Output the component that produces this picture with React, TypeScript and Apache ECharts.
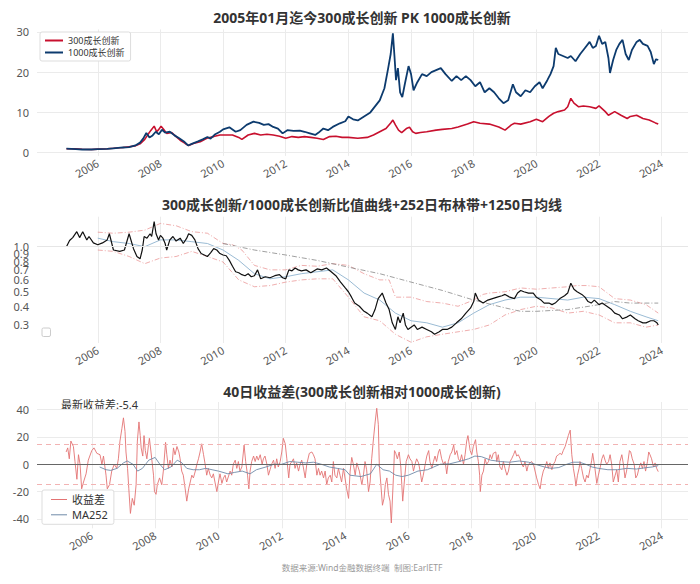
import React, { useEffect, useRef } from 'react';
import * as echarts from 'echarts';

const yearTicks = [2006, 2008, 2010, 2012, 2014, 2016, 2018, 2020, 2022, 2024];
const p1Ticks = [0, 10, 20, 30];
const p2Ticks = [0.3, 0.4, 0.5, 0.6, 0.7, 0.8, 0.9, 1.0];
const p3Ticks = [-40, -20, 0, 20, 40];
const legend1 = ['300成长创新', '1000成长创新'];
const legend3 = ['收益差', 'MA252'];

const p300: [number, number][] = [[2005.0,1.0],[2005.3,0.95],[2005.5,0.85],[2005.8,0.8],[2006.0,0.9],[2006.3,1.0],[2006.5,1.1],[2006.8,1.3],[2007.0,1.5],[2007.2,1.7],[2007.35,2.2],[2007.5,3.3],[2007.6,4.5],[2007.7,5.6],[2007.8,6.6],[2007.88,5.2],[2007.95,5.8],[2008.02,6.6],[2008.1,5.8],[2008.2,4.8],[2008.36,5.0],[2008.5,4.0],[2008.63,3.1],[2008.79,2.3],[2008.9,1.8],[2009.05,2.3],[2009.27,2.7],[2009.48,3.6],[2009.7,4.0],[2009.9,4.4],[2010.0,4.4],[2010.3,4.4],[2010.5,3.8],[2010.6,3.3],[2010.8,4.4],[2011.0,4.8],[2011.2,4.4],[2011.4,4.6],[2011.6,4.4],[2011.8,4.1],[2012.0,3.6],[2012.2,4.0],[2012.4,3.8],[2012.6,4.0],[2012.8,3.8],[2013.0,3.6],[2013.2,3.3],[2013.4,4.0],[2013.6,4.1],[2013.8,3.8],[2014.0,3.8],[2014.3,3.6],[2014.6,3.8],[2014.8,4.4],[2015.0,5.2],[2015.2,6.0],[2015.35,7.4],[2015.42,8.1],[2015.5,6.9],[2015.6,5.6],[2015.7,5.0],[2015.85,6.0],[2015.95,6.3],[2016.05,5.2],[2016.15,4.8],[2016.3,5.0],[2016.5,5.2],[2016.8,5.6],[2017.0,5.8],[2017.3,6.0],[2017.5,6.4],[2017.8,7.1],[2018.0,7.7],[2018.2,7.3],[2018.5,7.1],[2018.8,6.4],[2019.0,5.6],[2019.2,6.9],[2019.3,7.3],[2019.5,7.1],[2019.8,7.7],[2020.0,8.3],[2020.2,7.7],[2020.4,9.0],[2020.55,9.8],[2020.7,10.2],[2020.9,10.6],[2021.0,11.4],[2021.1,13.5],[2021.2,12.3],[2021.35,11.4],[2021.5,11.6],[2021.7,11.4],[2021.9,11.0],[2022.0,11.6],[2022.2,10.2],[2022.3,9.3],[2022.5,10.2],[2022.7,9.3],[2022.9,8.5],[2023.0,9.0],[2023.2,9.3],[2023.4,8.5],[2023.6,8.1],[2023.8,7.4],[2023.89,7.1]];

const p1000: [number, number][] = [[2005.0,1.0],[2005.3,0.9],[2005.5,0.8],[2005.8,0.8],[2006.0,0.9],[2006.3,0.95],[2006.5,1.1],[2006.8,1.3],[2007.0,1.4],[2007.2,1.8],[2007.35,2.5],[2007.45,3.5],[2007.55,4.9],[2007.65,3.8],[2007.75,4.3],[2007.85,5.2],[2007.95,4.6],[2008.05,5.7],[2008.15,5.0],[2008.3,5.2],[2008.45,4.3],[2008.6,3.6],[2008.75,2.8],[2008.88,1.8],[2009.0,2.2],[2009.2,2.8],[2009.35,3.3],[2009.5,3.9],[2009.6,3.5],[2009.75,4.6],[2009.9,5.2],[2010.0,5.8],[2010.2,6.3],[2010.4,5.2],[2010.55,5.6],[2010.75,6.9],[2010.97,7.7],[2011.15,7.4],[2011.3,6.9],[2011.45,7.1],[2011.6,6.4],[2011.75,6.0],[2011.9,4.8],[2012.05,5.6],[2012.25,5.4],[2012.45,5.5],[2012.6,5.2],[2012.77,4.8],[2012.94,4.4],[2013.05,5.0],[2013.2,6.0],[2013.35,5.6],[2013.5,6.4],[2013.73,7.3],[2013.9,7.8],[2014.0,9.0],[2014.15,8.3],[2014.3,8.0],[2014.5,9.0],[2014.7,10.0],[2014.85,11.5],[2015.0,13.0],[2015.15,16.0],[2015.27,21.0],[2015.35,24.5],[2015.42,29.6],[2015.47,24.0],[2015.52,18.0],[2015.58,21.0],[2015.65,15.0],[2015.72,13.8],[2015.8,17.0],[2015.92,21.5],[2016.0,19.5],[2016.08,15.5],[2016.2,17.5],[2016.35,19.5],[2016.5,19.0],[2016.65,20.0],[2016.8,20.5],[2016.95,21.0],[2017.1,19.5],[2017.3,17.8],[2017.45,19.0],[2017.6,18.0],[2017.75,19.0],[2017.9,18.0],[2018.05,16.5],[2018.2,17.5],[2018.35,15.0],[2018.5,16.0],[2018.65,15.0],[2018.8,13.5],[2018.95,12.3],[2019.1,13.0],[2019.25,17.0],[2019.35,15.0],[2019.5,14.0],[2019.65,15.5],[2019.8,15.0],[2019.95,16.5],[2020.1,17.5],[2020.2,16.0],[2020.35,18.0],[2020.45,19.5],[2020.55,21.5],[2020.62,26.0],[2020.7,24.5],[2020.85,24.0],[2021.0,23.5],[2021.1,24.0],[2021.25,22.7],[2021.4,24.5],[2021.55,26.0],[2021.7,27.5],[2021.8,26.0],[2021.9,26.5],[2022.0,29.0],[2022.1,27.0],[2022.2,27.5],[2022.3,23.5],[2022.35,19.8],[2022.45,23.0],[2022.55,25.5],[2022.65,27.0],[2022.75,28.0],[2022.85,24.5],[2022.95,23.0],[2023.05,25.5],[2023.2,27.5],[2023.3,28.0],[2023.4,27.0],[2023.55,26.5],[2023.65,25.0],[2023.75,22.0],[2023.82,23.2],[2023.89,23.0]];

const ratio: [number, number][] = [[2005.0,1.0],[2005.1,1.1],[2005.2,1.15],[2005.33,1.26],[2005.42,1.15],[2005.52,1.26],[2005.65,1.11],[2005.72,1.17],[2005.86,1.06],[2006.0,1.03],[2006.15,1.06],[2006.3,1.11],[2006.37,1.22],[2006.5,0.95],[2006.7,0.93],[2006.85,0.95],[2007.0,1.22],[2007.14,0.97],[2007.25,0.86],[2007.35,0.83],[2007.42,0.95],[2007.48,1.17],[2007.57,1.14],[2007.67,1.22],[2007.72,1.17],[2007.8,1.47],[2007.86,1.22],[2007.94,1.11],[2008.0,1.19],[2008.08,1.14],[2008.15,1.05],[2008.2,0.95],[2008.3,1.11],[2008.4,1.17],[2008.5,1.09],[2008.63,1.14],[2008.73,1.05],[2008.84,1.14],[2008.9,1.22],[2009.0,1.19],[2009.1,1.11],[2009.2,0.97],[2009.3,0.9],[2009.4,0.88],[2009.5,0.86],[2009.6,0.91],[2009.7,0.97],[2009.8,0.95],[2009.9,0.9],[2010.0,0.88],[2010.1,0.87],[2010.2,0.81],[2010.3,0.74],[2010.4,0.68],[2010.5,0.67],[2010.6,0.65],[2010.7,0.64],[2010.8,0.66],[2010.9,0.63],[2011.0,0.64],[2011.1,0.7],[2011.2,0.61],[2011.35,0.63],[2011.5,0.62],[2011.65,0.64],[2011.8,0.65],[2011.9,0.62],[2012.0,0.61],[2012.1,0.7],[2012.2,0.69],[2012.3,0.72],[2012.4,0.7],[2012.5,0.69],[2012.65,0.7],[2012.8,0.67],[2013.0,0.71],[2013.15,0.7],[2013.3,0.72],[2013.45,0.68],[2013.6,0.64],[2013.75,0.58],[2013.9,0.53],[2014.0,0.5],[2014.1,0.46],[2014.2,0.42],[2014.35,0.4],[2014.5,0.37],[2014.6,0.36],[2014.75,0.34],[2014.85,0.38],[2014.95,0.45],[2015.08,0.49],[2015.2,0.42],[2015.3,0.38],[2015.4,0.31],[2015.5,0.28],[2015.58,0.34],[2015.65,0.31],[2015.75,0.36],[2015.82,0.3],[2015.9,0.28],[2016.0,0.29],[2016.1,0.3],[2016.2,0.28],[2016.35,0.29],[2016.5,0.28],[2016.65,0.27],[2016.75,0.26],[2016.9,0.27],[2017.0,0.28],[2017.15,0.28],[2017.3,0.29],[2017.45,0.31],[2017.6,0.33],[2017.75,0.36],[2017.9,0.39],[2018.0,0.43],[2018.05,0.49],[2018.15,0.44],[2018.3,0.42],[2018.45,0.44],[2018.6,0.45],[2018.75,0.46],[2018.9,0.47],[2019.0,0.48],[2019.15,0.46],[2019.3,0.45],[2019.4,0.49],[2019.5,0.51],[2019.6,0.5],[2019.75,0.49],[2019.9,0.49],[2020.0,0.46],[2020.15,0.44],[2020.25,0.42],[2020.4,0.42],[2020.5,0.41],[2020.6,0.42],[2020.75,0.45],[2020.9,0.47],[2021.0,0.49],[2021.1,0.57],[2021.2,0.52],[2021.3,0.5],[2021.45,0.48],[2021.55,0.46],[2021.65,0.43],[2021.75,0.42],[2021.85,0.44],[2022.0,0.41],[2022.1,0.42],[2022.25,0.4],[2022.4,0.38],[2022.5,0.36],[2022.65,0.35],[2022.75,0.33],[2022.9,0.34],[2023.0,0.35],[2023.15,0.33],[2023.25,0.32],[2023.4,0.31],[2023.5,0.31],[2023.65,0.32],[2023.75,0.32],[2023.85,0.31],[2023.89,0.3]];

const bandUpper: [number, number][] = [[2006.0,1.25],[2006.5,1.23],[2007.0,1.25],[2007.5,1.29],[2008.0,1.43],[2008.5,1.38],[2009.0,1.26],[2009.5,1.23],[2010.0,1.05],[2010.3,1.03],[2010.6,0.95],[2011.0,0.75],[2011.5,0.7],[2012.0,0.7],[2012.5,0.75],[2013.0,0.74],[2013.5,0.77],[2014.0,0.75],[2014.5,0.66],[2015.0,0.6],[2015.3,0.6],[2015.5,0.46],[2016.0,0.46],[2016.5,0.43],[2017.0,0.42],[2017.5,0.4],[2018.0,0.44],[2018.3,0.48],[2018.5,0.49],[2019.0,0.5],[2019.5,0.53],[2020.0,0.52],[2020.5,0.53],[2021.0,0.54],[2021.3,0.55],[2021.6,0.55],[2022.0,0.54],[2022.5,0.45],[2023.0,0.44],[2023.5,0.41],[2023.89,0.36]];

const bandLower: [number, number][] = [[2006.0,0.95],[2006.5,0.93],[2007.0,0.86],[2007.5,0.77],[2008.0,0.84],[2008.5,0.86],[2009.0,0.93],[2009.5,0.86],[2010.0,0.79],[2010.5,0.6],[2011.0,0.54],[2011.5,0.55],[2012.0,0.58],[2012.5,0.6],[2013.0,0.61],[2013.5,0.61],[2014.0,0.46],[2014.5,0.34],[2015.0,0.32],[2015.5,0.26],[2016.0,0.23],[2016.5,0.25],[2017.0,0.26],[2017.5,0.27],[2018.0,0.28],[2018.5,0.3],[2019.0,0.35],[2019.5,0.38],[2020.0,0.4],[2020.5,0.39],[2021.0,0.36],[2021.5,0.37],[2022.0,0.35],[2022.5,0.31],[2023.0,0.31],[2023.5,0.29],[2023.89,0.3]];

const bandMid: [number, number][] = [[2006.0,1.14],[2006.5,1.08],[2007.0,1.05],[2007.5,1.0],[2008.0,1.11],[2008.5,1.11],[2009.0,1.08],[2009.5,1.05],[2010.0,0.95],[2010.5,0.81],[2011.0,0.66],[2011.5,0.61],[2012.0,0.63],[2012.5,0.66],[2013.0,0.68],[2013.5,0.7],[2014.0,0.6],[2014.5,0.49],[2015.0,0.44],[2015.5,0.36],[2016.0,0.32],[2016.5,0.31],[2017.0,0.29],[2017.5,0.31],[2018.0,0.36],[2018.5,0.41],[2019.0,0.44],[2019.5,0.46],[2020.0,0.46],[2020.5,0.45],[2021.0,0.44],[2021.5,0.46],[2022.0,0.45],[2022.5,0.41],[2023.0,0.37],[2023.5,0.34],[2023.89,0.32]];

const ma1250: [number, number][] = [[2010.0,1.05],[2011.0,0.95],[2012.0,0.88],[2013.0,0.81],[2014.0,0.73],[2015.0,0.66],[2016.0,0.58],[2017.0,0.51],[2018.0,0.44],[2019.0,0.39],[2019.5,0.37],[2020.0,0.37],[2021.0,0.38],[2022.0,0.41],[2022.5,0.43],[2023.0,0.42],[2023.5,0.42],[2023.89,0.42]];

const spread: [number, number][] = [[2005.19,9],[2005.24,12],[2005.29,4],[2005.34,17],[2005.42,13],[2005.47,2],[2005.53,-11],[2005.58,7],[2005.63,0],[2005.68,-18],[2005.74,-13],[2005.82,-7],[2005.89,3],[2006.0,10],[2006.07,12],[2006.16,8],[2006.26,7],[2006.32,0],[2006.37,6],[2006.45,-8],[2006.49,-18],[2006.56,-15],[2006.63,-5],[2006.71,0],[2006.79,-3],[2006.84,4],[2006.89,17],[2006.95,26],[2007.0,34],[2007.05,24],[2007.08,9],[2007.13,-3],[2007.17,-18],[2007.22,-36],[2007.28,-25],[2007.34,-30],[2007.4,-15],[2007.44,17],[2007.49,31],[2007.53,21],[2007.56,12],[2007.61,6],[2007.65,21],[2007.69,10],[2007.74,4],[2007.79,14],[2007.82,19],[2007.87,9],[2007.95,-8],[2007.98,-20],[2008.03,-22],[2008.07,-15],[2008.14,-10],[2008.21,-15],[2008.26,-5],[2008.33,16],[2008.37,7],[2008.42,-3],[2008.47,3],[2008.53,-2],[2008.58,12],[2008.63,7],[2008.69,13],[2008.75,9],[2008.79,4],[2008.84,-5],[2008.89,-8],[2008.95,-18],[2009.0,-27],[2009.06,-18],[2009.11,-13],[2009.16,-8],[2009.21,-10],[2009.27,-5],[2009.32,0],[2009.37,4],[2009.42,9],[2009.47,15],[2009.53,7],[2009.58,0],[2009.63,-8],[2009.68,-3],[2009.74,-8],[2009.79,-10],[2009.84,-7],[2009.89,-13],[2009.95,-20],[2010.0,-13],[2010.05,-7],[2010.11,-14],[2010.16,-10],[2010.21,-8],[2010.26,-13],[2010.37,-5],[2010.42,-8],[2010.47,0],[2010.53,3],[2010.58,-3],[2010.63,2],[2010.68,-5],[2010.74,-2],[2010.81,14],[2010.86,2],[2010.92,-8],[2010.96,-18],[2011.0,-5],[2011.05,2],[2011.11,6],[2011.16,2],[2011.21,6],[2011.26,3],[2011.32,7],[2011.38,0],[2011.42,4],[2011.47,6],[2011.53,0],[2011.58,-8],[2011.63,-4],[2011.68,0],[2011.74,3],[2011.79,-3],[2011.84,4],[2011.89,-2],[2011.95,2],[2012.0,9],[2012.05,19],[2012.11,15],[2012.16,4],[2012.22,-10],[2012.26,0],[2012.32,2],[2012.37,4],[2012.42,-3],[2012.47,1],[2012.53,-5],[2012.58,0],[2012.63,3],[2012.68,-2],[2012.74,-10],[2012.79,0],[2012.87,8],[2012.95,9],[2013.0,7],[2013.05,4],[2013.11,-8],[2013.16,-3],[2013.21,-8],[2013.26,-5],[2013.32,-10],[2013.37,-5],[2013.42,-15],[2013.47,-10],[2013.53,-8],[2013.58,-13],[2013.63,2],[2013.68,-8],[2013.74,-10],[2013.79,-3],[2013.84,-8],[2013.89,-13],[2013.95,-3],[2014.05,-18],[2014.11,-25],[2014.16,-5],[2014.21,5],[2014.26,0],[2014.32,-8],[2014.37,1],[2014.45,-5],[2014.53,-15],[2014.58,-8],[2014.63,2],[2014.68,-4],[2014.74,-20],[2014.79,-13],[2014.84,4],[2014.89,17],[2014.95,31],[2015.0,41],[2015.05,29],[2015.08,0],[2015.13,-15],[2015.18,-30],[2015.23,-25],[2015.27,-15],[2015.32,-10],[2015.37,-22],[2015.42,-27],[2015.46,-43],[2015.53,-8],[2015.56,10],[2015.6,8],[2015.65,4],[2015.71,9],[2015.76,-2],[2015.82,-27],[2015.87,-13],[2015.93,2],[2016.0,7],[2016.05,4],[2016.11,2],[2016.16,-5],[2016.21,0],[2016.26,4],[2016.32,1],[2016.37,-5],[2016.42,-13],[2016.47,-8],[2016.53,0],[2016.58,6],[2016.64,10],[2016.68,2],[2016.74,-3],[2016.79,2],[2016.84,6],[2016.89,2],[2016.95,9],[2016.99,11],[2017.05,4],[2017.11,0],[2017.16,2],[2017.21,-7],[2017.26,2],[2017.32,7],[2017.37,9],[2017.43,14],[2017.47,7],[2017.53,10],[2017.58,4],[2017.63,2],[2017.68,7],[2017.74,0],[2017.79,7],[2017.84,17],[2017.88,21],[2017.95,10],[2018.0,7],[2018.05,13],[2018.12,18],[2018.16,9],[2018.21,2],[2018.25,-8],[2018.27,-20],[2018.32,-8],[2018.37,-5],[2018.42,4],[2018.47,0],[2018.53,2],[2018.58,7],[2018.63,4],[2018.68,8],[2018.76,9],[2018.79,2],[2018.84,7],[2018.89,-2],[2018.95,-4],[2019.0,2],[2019.05,-3],[2019.11,-8],[2019.16,-5],[2019.21,2],[2019.26,4],[2019.32,7],[2019.37,10],[2019.42,6],[2019.47,7],[2019.53,4],[2019.58,0],[2019.63,-2],[2019.68,2],[2019.74,-5],[2019.79,0],[2019.84,1],[2019.89,2],[2019.95,0],[2020.0,-5],[2020.05,-10],[2020.11,-15],[2020.16,-18],[2020.21,-10],[2020.26,-5],[2020.32,-2],[2020.37,2],[2020.42,-3],[2020.47,1],[2020.53,-4],[2020.58,0],[2020.63,2],[2020.68,6],[2020.74,7],[2020.79,8],[2020.84,7],[2020.89,10],[2020.95,13],[2021.0,17],[2021.05,21],[2021.11,25],[2021.16,7],[2021.21,-3],[2021.26,-10],[2021.29,-16],[2021.34,-8],[2021.39,-3],[2021.42,2],[2021.47,-3],[2021.53,-10],[2021.58,-13],[2021.63,-8],[2021.68,-10],[2021.74,-3],[2021.79,3],[2021.82,8],[2021.89,-3],[2021.95,-14],[2022.0,-8],[2022.05,-3],[2022.11,4],[2022.16,7],[2022.21,3],[2022.26,0],[2022.32,2],[2022.37,7],[2022.42,0],[2022.47,-13],[2022.53,-8],[2022.58,-4],[2022.63,-13],[2022.68,2],[2022.74,7],[2022.79,0],[2022.84,-10],[2022.89,-5],[2022.98,10],[2023.02,9],[2023.07,4],[2023.13,0],[2023.18,-10],[2023.23,-8],[2023.28,-3],[2023.34,1],[2023.39,-3],[2023.44,2],[2023.49,-5],[2023.55,2],[2023.59,9],[2023.63,7],[2023.68,4],[2023.74,-2],[2023.79,1],[2023.84,-3],[2023.89,-5.4]];

const ma252: [number, number][] = [[2006.25,-2],[2006.45,-4],[2006.6,-4.5],[2006.8,-3],[2007.0,1],[2007.12,2.4],[2007.3,0],[2007.45,-5],[2007.6,-3],[2007.8,3],[2008.0,5],[2008.15,0],[2008.3,-4],[2008.5,-2],[2008.7,3],[2008.85,1],[2009.0,-3],[2009.2,-4],[2009.4,-4],[2009.6,-3],[2009.8,-4],[2010.0,-5],[2010.3,-7],[2010.5,-6],[2010.75,-5],[2011.0,-7],[2011.2,-4],[2011.5,-2],[2011.75,0],[2012.0,0],[2012.25,2],[2012.5,1.5],[2012.75,1],[2013.0,1.5],[2013.25,0],[2013.5,-2],[2013.75,-3],[2014.0,-4],[2014.15,-8],[2014.5,-9],[2014.8,-7],[2015.0,0],[2015.2,-4],[2015.4,-5],[2015.6,-8],[2015.8,-9],[2016.0,-8],[2016.3,-5],[2016.6,-4],[2016.8,-2],[2017.0,0],[2017.3,0.3],[2017.6,2],[2017.9,4],[2018.1,6],[2018.3,5.6],[2018.6,3],[2018.9,2],[2019.2,1.5],[2019.5,2.4],[2019.8,1.5],[2020.0,0],[2020.3,-2],[2020.5,-3],[2020.75,-2.4],[2021.0,0],[2021.2,1.5],[2021.4,1.5],[2021.6,0],[2021.8,-2],[2022.0,-3],[2022.3,-4],[2022.6,-4],[2022.9,-3],[2023.2,-3.5],[2023.5,-2.5],[2023.7,-2],[2023.89,-1]];

const latestSpread = -5.4;
const FONT = "'Noto Sans', 'Noto Sans CJK SC', sans-serif";

// ECharts drops one of the two outermost labels of a list when they overlap their neighbour,
// so the closely spaced 0.9 / 1.0 labels are listed away from the ends of the list.
const p2LabelOrder = [p2Ticks[6], p2Ticks[0], p2Ticks[2], p2Ticks[3], p2Ticks[4], p2Ticks[5], p2Ticks[7], p2Ticks[1]];

function xAxisCfg(gridIndex: number, min: number, max: number) {
  return {
    type: 'value', gridIndex, min, max,
    axisLine: { show: false },
    axisTick: { show: false, customValues: yearTicks },
    axisLabel: {
      customValues: yearTicks, rotate: 30, color: '#555', fontSize: 11, margin: 6,
      fontFamily: FONT, formatter: (v: number) => String(Math.round(v)),
      showMinLabel: true, showMaxLabel: true, hideOverlap: false,
    },
    splitLine: { show: true, lineStyle: { color: '#ebebeb', width: 1 } },
  };
}

function yAxisCfg(gridIndex: number, min: number, max: number, ticks: number[], split: boolean, type = 'value', fmt?: (v: number) => string) {
  return {
    type, gridIndex, min, max,
    axisLine: { show: false },
    axisTick: { show: false, customValues: ticks },
    axisLabel: {
      customValues: ticks, color: '#555', fontSize: 11, margin: 8, fontFamily: FONT, formatter: fmt,
      hideOverlap: false, showMinLabel: true, showMaxLabel: true,
    },
    splitLine: { show: split, lineStyle: { color: '#ebebeb', width: 1 } },
  };
}

const dashDot = [5, 2, 1, 2];
const fmt1 = (v: number) => v.toFixed(1);

export default function App() {
  const ref = useRef<HTMLDivElement>(null);
  useEffect(() => {
    const chart = echarts.init(ref.current as HTMLDivElement, null, { renderer: 'svg' });
    const option: any = {
      animation: false,
      backgroundColor: '#fff',
      textStyle: { fontFamily: FONT },
      grid: [
        { left: 37, right: 12, top: 29.4, height: 126.5 },
        { left: 37, right: 12, top: 216.7, height: 126.3 },
        { left: 37, right: 12, top: 402, height: 126.3 },
      ],
      xAxis: [xAxisCfg(0, 2004.06, 2024.84), xAxisCfg(1, 2004.06, 2024.84), xAxisCfg(2, 2004.27, 2024.83)],
      yAxis: [
        yAxisCfg(0, -0.79, 30.6, p1Ticks, true),
        yAxisCfg(1, 0.2273, 1.586, p2LabelOrder, false, 'log', fmt1),
        yAxisCfg(2, -46.9, 45.6, p3Ticks, true),
      ],
      legend: [
        {
          data: legend1, orient: 'vertical', left: 40, top: 32, padding: [4, 6, 4, 5],
          itemWidth: 18, itemHeight: 2, itemGap: 3, itemTextGap: 7, icon: 'rect',
          textStyle: { fontSize: 9, color: '#333', fontFamily: FONT },
          borderColor: '#ddd', borderWidth: 1, backgroundColor: '#fff', borderRadius: 2,
        },
        {
          data: legend3, orient: 'vertical', left: 42, top: 490, padding: [3, 6, 3, 9],
          itemWidth: 16, itemHeight: 1, itemGap: 2.3, itemTextGap: 10, icon: 'rect',
          textStyle: { fontSize: 11, lineHeight: 13, color: '#333', fontFamily: FONT },
          borderColor: '#ddd', borderWidth: 1, backgroundColor: '#fff', borderRadius: 2,
        },
      ],
      series: [
        { name: legend1[0], type: 'line', xAxisIndex: 0, yAxisIndex: 0, data: p300, showSymbol: false, color: '#c8102e', lineStyle: { width: 1.6 } },
        { name: legend1[1], type: 'line', xAxisIndex: 0, yAxisIndex: 0, data: p1000, showSymbol: false, color: '#0d3b6e', lineStyle: { width: 1.8 } },
        { name: 'upper', type: 'line', xAxisIndex: 1, yAxisIndex: 1, data: bandUpper, showSymbol: false, color: '#e68080', lineStyle: { width: 0.8, type: dashDot, opacity: 0.8 } },
        { name: 'lower', type: 'line', xAxisIndex: 1, yAxisIndex: 1, data: bandLower, showSymbol: false, color: '#e68080', lineStyle: { width: 0.8, type: dashDot, opacity: 0.8 } },
        { name: 'mid', type: 'line', xAxisIndex: 1, yAxisIndex: 1, data: bandMid, showSymbol: false, color: '#8fb3cf', lineStyle: { width: 0.9 } },
        { name: 'ma1250', type: 'line', xAxisIndex: 1, yAxisIndex: 1, data: ma1250, showSymbol: false, color: '#888', lineStyle: { width: 0.8, type: dashDot } },
        {
          name: 'ratio', type: 'line', xAxisIndex: 1, yAxisIndex: 1, data: ratio, showSymbol: false, color: '#111', lineStyle: { width: 1.2 },
          markLine: { silent: true, symbol: 'none', label: { show: false }, lineStyle: { color: '#e6e6e6', width: 1, type: 'solid' }, data: [{ yAxis: 1.0 }] },
        },
        {
          name: legend3[0], type: 'line', xAxisIndex: 2, yAxisIndex: 2, data: spread, showSymbol: false, color: '#e37373', lineStyle: { width: 1, opacity: 0.9 },
          markLine: {
            silent: true, symbol: 'none', label: { show: false },
            data: [
              { yAxis: 0, lineStyle: { color: '#666', width: 1, type: 'solid' } },
              { yAxis: 15, lineStyle: { color: '#f2b3b3', width: 1, type: [5, 4] } },
              { yAxis: -15, lineStyle: { color: '#f2b3b3', width: 1, type: [5, 4] } },
            ],
          },
        },
        { name: legend3[1], type: 'line', xAxisIndex: 2, yAxisIndex: 2, data: ma252, showSymbol: false, color: '#6f8aa8', lineStyle: { width: 0.9 } },
      ],
      graphic: [
        { type: 'text', x: 362, y: 17, style: { text: '2005年01月迄今300成长创新 PK 1000成长创新', fontSize: 14, fontWeight: 'bold', fontFamily: FONT, fill: '#333', textAlign: 'center', textVerticalAlign: 'middle' } },
        { type: 'text', x: 362, y: 204, style: { text: '300成长创新/1000成长创新比值曲线+252日布林带+1250日均线', fontSize: 14, fontWeight: 'bold', fontFamily: FONT, fill: '#333', textAlign: 'center', textVerticalAlign: 'middle' } },
        { type: 'text', x: 362, y: 391.5, style: { text: '40日收益差(300成长创新相对1000成长创新)', fontSize: 14, fontWeight: 'bold', fontFamily: FONT, fill: '#333', textAlign: 'center', textVerticalAlign: 'middle' } },
        { type: 'text', x: 61, y: 404, style: { text: '最新收益差:' + latestSpread, fontSize: 11, fontFamily: FONT, fill: '#333', textAlign: 'left', textVerticalAlign: 'middle' } },
        { type: 'text', x: 362, y: 567, style: { text: '数据来源:Wind金融数据终端  制图:EarlETF', fontSize: 8.5, fontFamily: FONT, fill: '#999', textAlign: 'center', textVerticalAlign: 'middle' } },
        { type: 'rect', shape: { x: 42, y: 328, width: 8.5, height: 8.5, r: 1.5 }, style: { fill: '#fff', stroke: '#ccc', lineWidth: 1 } },
      ],
    };
    chart.setOption(option);
    return () => chart.dispose();
  }, []);
  return <div ref={ref} style={{ position: 'fixed', left: 0, top: 0, width: 700, height: 584 }} />;
}
